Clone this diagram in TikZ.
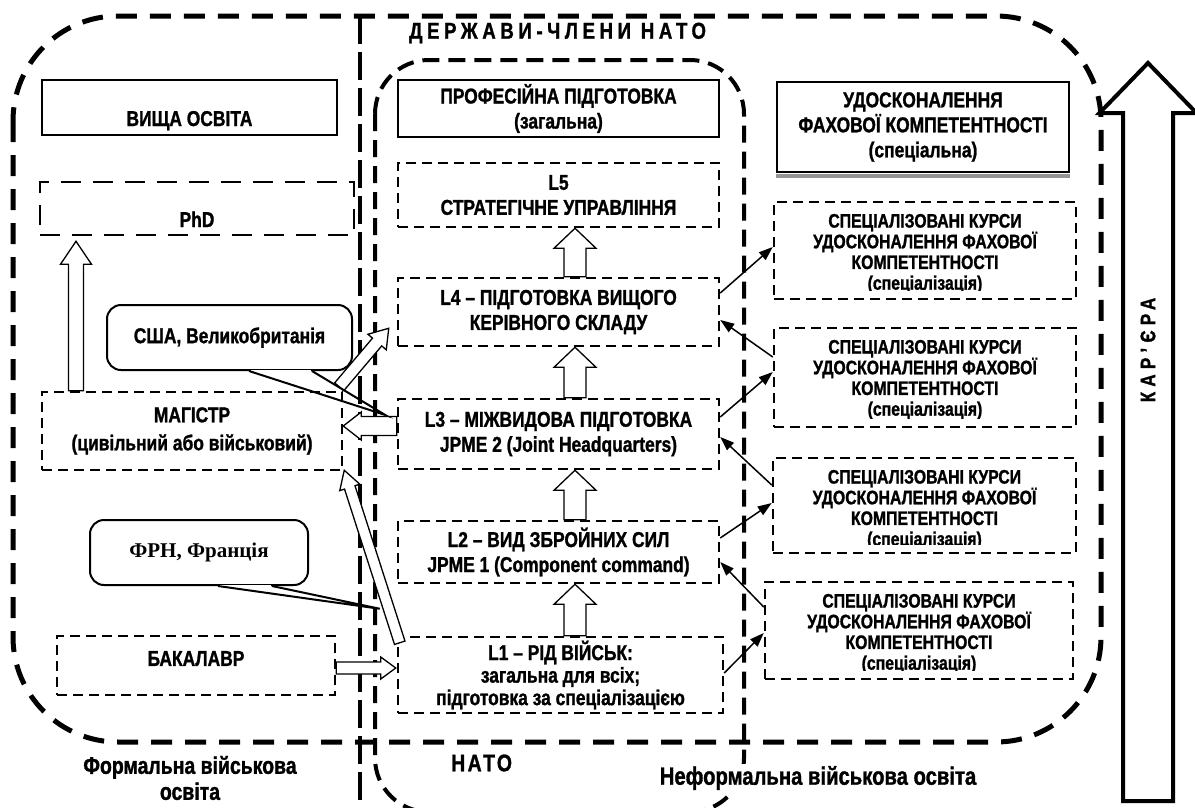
\documentclass[tikz,border=0pt]{standalone}
\usepackage{fontspec}
\setmainfont{Liberation Sans}[FakeStretch=0.81, BoldFeatures={FakeBold=1.2}]
\newfontfamily\timesbf{Liberation Serif}
\usetikzlibrary{arrows.meta,calc}
\definecolor{shadowgray}{RGB}{150,150,150}
\newcommand\mainfnt{\bfseries\fontsize{21.5}{25}\selectfont}
\newcommand\specfnt{\bfseries\fontsize{19.5}{20.7}\selectfont}

\tikzset{
  box/.style={draw, line width=2pt, fill=white, inner sep=0pt, align=center, font=\mainfnt},
  dashbox/.style={box, line width=2.5pt, dash pattern=on 10pt off 6pt},
  lowtext/.style={text height=40pt, text depth=3pt},
  spectext/.style={inner sep=0pt, align=center, font=\specfnt},
  thinarrow/.style={line width=1.5pt, -{Triangle[length=14pt,width=10pt]}},
  hollow/.style n args={3}{draw, fill=white, line width=1.3pt, line join=miter,
    to path={
      let \p1=(\tikztostart), \p2=(\tikztotarget),
          \n1={veclen(\x2-\x1,\y2-\y1)},
          \n2={(\x2-\x1)/\n1}, \n3={(\y2-\y1)/\n1}
      in ({\x1-\n3*#1},{\y1+\n2*#1})
      -- ({\x2-\n2*#3-\n3*#1},{\y2-\n3*#3+\n2*#1})
      -- ({\x2-\n2*#3-\n3*#2},{\y2-\n3*#3+\n2*#2})
      -- (\p2)
      -- ({\x2-\n2*#3+\n3*#2},{\y2-\n3*#3-\n2*#2})
      -- ({\x2-\n2*#3+\n3*#1},{\y2-\n3*#3-\n2*#1})
      -- ({\x1+\n3*#1},{\y1-\n2*#1}) -- cycle}}
}

\begin{document}
\begin{tikzpicture}[x=1pt,y=-1pt]
\useasboundingbox (0,0) rectangle (1195,807);
% regions
\draw [line width=5pt, dash pattern=on 21pt off 13pt, rounded corners=105pt] (13,16) rectangle (1101,742);
\draw [line width=4pt, dash pattern=on 28pt off 8pt] (360,16) -- (360,807);
\draw [line width=4pt, dash pattern=on 17pt off 9pt, rounded corners=54pt] (375,60) rectangle (744,812);

% left column
\node[box, minimum width=295pt, minimum height=55pt, lowtext] (vyshcha) at (189.5,107.5) {ВИЩА ОСВІТА};
\node[dashbox, dash pattern=on 20pt off 12pt, minimum width=314pt, minimum height=53pt, lowtext] (phd) at (197,208.5) {PhD};
\node[dashbox, minimum width=300pt, minimum height=78pt, font=\bfseries\fontsize{21.5}{28}\selectfont] (magistr) at (192,431) {МАГІСТР\\(цивільний або військовий)};
\node[dashbox, minimum width=278pt, minimum height=59pt, text depth=14pt] (bakalavr) at (196,665.5) {БАКАЛАВР};

% middle column
\node[box, minimum width=321pt, minimum height=57pt] (prof) at (558.5,108.5) {ПРОФЕСІЙНА ПІДГОТОВКА\\(загальна)};
\node[dashbox, minimum width=321pt, minimum height=64pt] (l5) at (558.5,195) {L5\\СТРАТЕГІЧНЕ УПРАВЛІННЯ};
\node[dashbox, minimum width=321pt, minimum height=68pt] (l4) at (558.5,312) {L4 – ПІДГОТОВКА ВИЩОГО\\КЕРІВНОГО СКЛАДУ};
\node[dashbox, minimum width=321pt, minimum height=70pt] (l3) at (558.5,434) {L3 – МІЖВИДОВА ПІДГОТОВКА\\JPME 2 (Joint Headquarters)};
\node[dashbox, minimum width=321pt, minimum height=62pt] (l2) at (558.5,552) {L2 – ВИД ЗБРОЙНИХ СИЛ\\JPME 1 (Component command)};
\node[dashbox, minimum width=325pt, minimum height=76pt, font=\bfseries\fontsize{21.5}{22.5}\selectfont] (l1) at (560.5,675) {L1 – РІД ВІЙСЬК:\\загальна для всіх;\\підготовка за спеціалізацією};

% right column
\node[box, minimum width=292pt, minimum height=90pt] (udosk) at (923,127) {УДОСКОНАЛЕННЯ\\ФАХОВОЇ КОМПЕТЕНТНОСТІ\\(спеціальна)};
\fill [shadowgray] ([yshift=-1pt]udosk.south west) rectangle ([yshift=-5pt]udosk.south east);
\node[dashbox, minimum width=302pt, minimum height=97pt] (s1) at (925,250.5) {};
\node[dashbox, minimum width=302pt, minimum height=99pt] (s2) at (925,377.5) {};
\node[dashbox, minimum width=303pt, minimum height=95pt] (s3) at (924.5,505.5) {};
\node[dashbox, minimum width=308pt, minimum height=97pt] (s4) at (919,630.5) {};
\foreach \spec in {s1,s2,s3,s4}{
  \begin{scope}
    \clip (\spec.north west) rectangle ([yshift=10pt]\spec.south east);
    \node[spectext, anchor=north] (\spec-txt) at ([yshift=-13pt]\spec.north) {СПЕЦІАЛІЗОВАНІ КУРСИ\\УДОСКОНАЛЕННЯ ФАХОВОЇ\\КОМПЕТЕНТНОСТІ\\(спеціалізація)};
  \end{scope}
}

% links between levels and courses
\draw[thinarrow] ([yshift=19pt]l4.east) -- ([yshift=3.5pt]s1.west);
\draw[thinarrow] ([yshift=20.5pt]s2.west) -- ([yshift=-8pt]l4.east);
\draw[thinarrow] ([yshift=17pt]l3.east) -- ([yshift=5.5pt]s2.west);
\draw[thinarrow] ([yshift=20.5pt]s3.west) -- ([yshift=-3pt]l3.east);
\draw[thinarrow] ([yshift=14pt]l2.east) -- ([yshift=2.5pt]s3.west);
\draw[thinarrow] ([yshift=23.5pt]s4.west) -- ([yshift=-10pt]l2.east);
\draw[thinarrow] ([yshift=2pt]l1.east) -- ([yshift=-2.5pt]s4.west);

% hollow arrows
\coordinate (ax) at (575,0);
\foreach \lo/\hi in {l4/l5,l3/l4,l2/l3,l1/l2}
  \draw[hollow={11}{21}{20}] (\lo.north -| ax) to (\hi.south -| ax);
\draw[hollow={7.5}{15.5}{23}] ([xshift=-116pt]magistr.north) to ([xshift=-121pt,yshift=-5pt]phd.south);
\draw[hollow={9.5}{14}{18}] ([yshift=8pt]l3.west) to ([yshift=5pt]magistr.east);
\draw[hollow={6}{12}{18}] ([shift={(-4pt,4pt)}]magistr.north east) to ([shift={(-8pt,19pt)}]l4.south west);
\draw[hollow={5.5}{10.5}{18}] ([shift={(3pt,-7pt)}]l1.north west) to ([shift={(1pt,1pt)}]magistr.south east);
\draw[hollow={6}{11}{15}] ([yshift=-2.5pt]bakalavr.east) to ([shift={(-1pt,7pt)}]l1.west);

% callouts
\node[box, rounded corners=14pt, minimum width=245pt, minimum height=65pt] (usa) at (229.5,337.5) {США, Великобританія};
\coordinate (usatip) at ([shift={(-11.5pt,19pt)}]l3.west);
\draw[white, line width=3pt] ([xshift=21pt]usa.south) -- ([xshift=81pt]usa.south);
\draw[line width=2pt, line join=miter] ([xshift=19.5pt]usa.south) -- (usatip) -- ([xshift=82.5pt]usa.south);
\node[box, rounded corners=14pt, minimum width=218pt, minimum height=65pt, font=\timesbf\bfseries\fontsize{21}{25}\selectfont] (frn) at (199,552.5) {ФРН, Франція};
\coordinate (frntip) at ([shift={(-17pt,27pt)}]l1.north west);
\draw[white, line width=3pt] ([xshift=20.5pt]frn.south) -- ([xshift=71.5pt]frn.south);
\draw[line width=2pt, line join=miter] ([xshift=19pt]frn.south) -- (frntip) -- ([xshift=73pt]frn.south);

% career
\coordinate (careerfoot) at (1148,801);
\coordinate (careertip) at (1148,63);
\draw[hollow={25}{48.5}{50}, line width=4pt] (careerfoot) to (careertip);
\node[rotate=90, inner sep=0pt, font=\bfseries\fontsize{21}{24}\selectfont\addfontfeature{LetterSpace=25}] (career) at (1148,350) {КАР’ЄРА};

% region labels
\node[anchor=west, inner sep=0pt, font=\bfseries\fontsize{23}{25}\selectfont\addfontfeature{LetterSpace=20}] (members) at (409,33) {ДЕРЖАВИ-ЧЛЕНИ НАТО};
\node[anchor=west, inner sep=0pt, font=\bfseries\fontsize{24}{25}\selectfont\addfontfeature{LetterSpace=10}] (nato) at (451,763) {НАТО};
\node[align=center, inner sep=0pt, font=\bfseries\fontsize{24}{26}\selectfont] (formal) at (190,778) {Формальна військова\\освіта};
\node[fill=white, inner sep=2pt, font=\bfseries\fontsize{25}{28}\selectfont] (informal) at (818,778) {Неформальна військова освіта};
\end{tikzpicture}
\end{document}
